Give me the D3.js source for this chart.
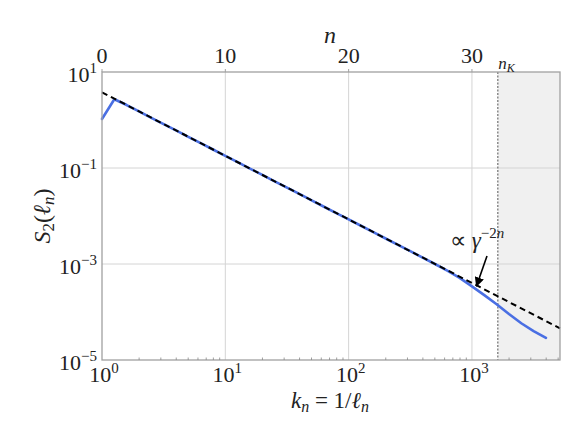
<!DOCTYPE html>
<html>
<head>
<meta charset="utf-8">
<script src="https://cdn.jsdelivr.net/npm/d3@7"></script>
<style>
  html, body { margin: 0; padding: 0; background: #ffffff; }
  svg { display: block; }
</style>
</head>
<body>
<svg id="chart" width="586" height="440"></svg>
<script>
// ---------- data ----------
const gamma = Math.pow(10, 0.1);          // shell ratio: k_n = gamma^n
const shellN = [0,1,2,3,4,5,6,7,8,9,10,11,12,13,14,15,16,17,18,19,20,21,22,23,24,25,26,27,28,29,30,31,32,33,34,35,36];
const s2Values = [1.05, 2.70, 2.05, 1.51, 1.11, 0.822, 0.607, 0.447, 0.330, 0.243,
                  0.179, 0.132, 0.0973, 0.0718, 0.0528, 0.0390, 0.0288, 0.0212, 0.0156, 0.0115,
                  0.00849, 0.00627, 0.00461, 0.00340, 0.00251, 0.00185, 0.00136, 0.00100, 0.000724, 0.000513,
                  0.000343, 0.000225, 0.000145, 0.0000908, 0.0000583, 0.0000401, 0.0000289];
const fitK = [1, 5176];
const fitS = [3.78, 4.57e-5];
const nKolmogorov = 32.1;
const nMax = 37.14;
const xTickExps = [0, 1, 2, 3];
const yTickExps = [1, -1, -3, -5];
const yGridExps = [-1, -3];
const nTicks = [0, 10, 20, 30];

// ---------- layout ----------
const svg = d3.select("#chart");
const L = 102, R = 560, T = 72, B = 360;
const kMax = Math.pow(gamma, nMax);
const x = d3.scaleLog().domain([1, kMax]).range([L, R]);
const xn = d3.scaleLinear().domain([0, nMax]).range([L, R]);
const y = d3.scaleLog().domain([1e-5, 10]).range([B, T]);

const FONT = '"Liberation Serif", "Times New Roman", serif';
const INK = "#222";

// text helper: parts = [{t, size, dy, italic}]
function label(px, py, anchor, parts, rotate) {
  const g = svg.append("g")
    .attr("transform", `translate(${px},${py})` + (rotate ? ` rotate(${rotate})` : ""));
  const t = g.append("text")
    .attr("x", 0).attr("y", 0)
    .attr("text-anchor", anchor)
    .style("font-family", FONT)
    .style("fill", INK);
  parts.forEach(p => {
    const s = t.append("tspan").text(p.t).style("font-size", p.size + "px");
    if (p.dy) s.attr("dy", p.dy);
    if (p.italic) s.style("font-style", "italic");
  });
  return t;
}

// shaded dissipative range
svg.append("rect")
  .attr("x", xn(nKolmogorov)).attr("y", T)
  .attr("width", R - xn(nKolmogorov)).attr("height", B - T)
  .attr("fill", "#f0f0f0");

// grid
const grid = svg.append("g").attr("stroke", "#d4d4d4").attr("stroke-width", 1);
xTickExps.filter(e => e > 0).forEach(e => {
  grid.append("line").attr("x1", x(Math.pow(10, e))).attr("x2", x(Math.pow(10, e)))
    .attr("y1", T).attr("y2", B);
});
yGridExps.forEach(e => {
  grid.append("line").attr("x1", L).attr("x2", R)
    .attr("y1", y(Math.pow(10, e))).attr("y2", y(Math.pow(10, e)));
});

// n_K dotted line
svg.append("line")
  .attr("x1", xn(nKolmogorov)).attr("x2", xn(nKolmogorov))
  .attr("y1", T).attr("y2", B)
  .attr("stroke", "#555").attr("stroke-width", 1).attr("stroke-dasharray", "2,1.5");

// S2 line
const pts = shellN.map((n, i) => [Math.pow(gamma, n), s2Values[i]]);
svg.append("path")
  .datum(pts)
  .attr("d", d3.line().x(d => x(d[0])).y(d => y(d[1])))
  .attr("fill", "none").attr("stroke", "#4a6fe3").attr("stroke-width", 2.6)
  .attr("stroke-linejoin", "round").attr("stroke-linecap", "round");

// power-law fit
svg.append("path")
  .datum(fitK.map((k, i) => [k, fitS[i]]))
  .attr("d", d3.line().x(d => x(d[0])).y(d => y(d[1])))
  .attr("fill", "none").attr("stroke", "#000").attr("stroke-width", 2)
  .attr("stroke-dasharray", "6,4");

// frame
svg.append("rect").attr("x", L).attr("y", T).attr("width", R - L).attr("height", B - T)
  .attr("fill", "none").attr("stroke", "#a0a0a0").attr("stroke-width", 1.3);

// bottom minor ticks (inward)
const minor = [];
for (let e = 0; e < 4; e++) for (let m = 2; m <= 9; m++) {
  const v = m * Math.pow(10, e);
  if (v < kMax) minor.push(v);
}
svg.append("g").selectAll("line").data(minor).join("line")
  .attr("x1", d => x(d)).attr("x2", d => x(d)).attr("y1", B).attr("y2", B - 2.5)
  .attr("stroke", "#888").attr("stroke-width", 0.8);

// top ticks
svg.append("g").selectAll("line").data(nTicks).join("line")
  .attr("x1", d => xn(d)).attr("x2", d => xn(d)).attr("y1", T).attr("y2", T - 3)
  .attr("stroke", "#a0a0a0").attr("stroke-width", 1);

const FS = 22, SUP = 15;

// bottom tick labels
xTickExps.forEach(e => {
  label(x(Math.pow(10, e)) + 2, 382, "middle",
    [{t: "10", size: FS}, {t: String(e), size: SUP, dy: -9}]);
});

// y tick labels
yTickExps.forEach(e => {
  label(97, y(Math.pow(10, e)) + 9.5, "end",
    [{t: "10", size: FS}, {t: e < 0 ? "\u2212" + (-e) : String(e), size: SUP, dy: -9}]);
});

// top tick labels
nTicks.forEach(n => {
  label(xn(n), 63, "middle", [{t: String(n), size: FS}]);
});

// top axis label
label(330, 43, "middle", [{t: "n", size: 24, italic: true}]);

// n_K
label(xn(nKolmogorov) + 0.5, 69, "start",
  [{t: "n", size: 17, italic: true}, {t: "K", size: 12, dy: 3, italic: true}]);

// x axis label
label(330, 408, "middle", [
  {t: "k", size: 23, italic: true},
  {t: "n", size: 16, italic: true, dy: 4},
  {t: " = 1/", size: 23, dy: -4},
  {t: "\u2113", size: 23, italic: true},
  {t: "n", size: 16, italic: true, dy: 4}
]);

// y axis label
label(50, 216, "middle", [
  {t: "S", size: 24, italic: true},
  {t: "2", size: 17, dy: 4},
  {t: "(", size: 24, dy: -4},
  {t: "\u2113", size: 24, italic: true},
  {t: "n", size: 17, italic: true, dy: 4},
  {t: ")", size: 24, dy: -4}
], -90);

// annotation
label(450, 248, "start", [
  {t: "\u221D ", size: 23},
  {t: "\u03B3", size: 23, italic: true},
  {t: "\u22122", size: 15, dy: -10},
  {t: "n", size: 15, italic: true}
]);

svg.append("defs").append("marker").attr("id", "ah")
  .attr("viewBox", "0 0 10 10").attr("refX", 9).attr("refY", 5)
  .attr("markerWidth", 6).attr("markerHeight", 6).attr("orient", "auto")
  .append("path").attr("d", "M0,0 L10,5 L0,10 z").attr("fill", "#000");
svg.append("line").attr("x1", 487).attr("y1", 256).attr("x2", 476.5).attr("y2", 286)
  .attr("stroke", "#000").attr("stroke-width", 1.6).attr("marker-end", "url(#ah)");
</script>
</body>
</html>
